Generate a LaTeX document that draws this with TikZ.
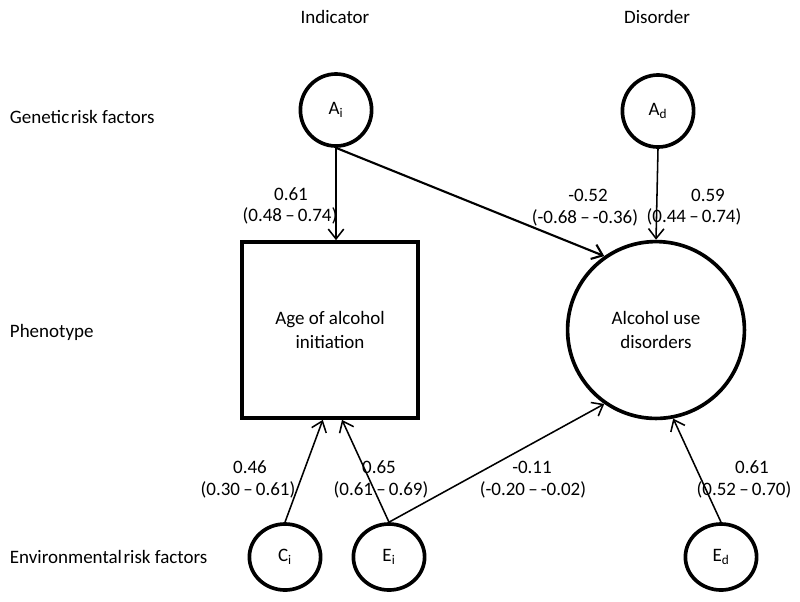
\documentclass[tikz,border=0pt]{standalone}
\usepackage{fontspec}
\setmainfont{Carlito}
\usetikzlibrary{arrows.meta,shapes.geometric}

\begin{document}
\begin{tikzpicture}[x=0.025cm,y=-0.025cm,font=\fontsize{13.5}{17.7}\selectfont,
    latente/.style={ellipse,draw,line width=2.6pt,minimum width=1.78cm,minimum height=1.8cm,inner sep=0pt},
    ruta/.style={-{Straight Barb[length=7pt,width=11pt]},line width=1.1pt}]
        \useasboundingbox (0,0) rectangle (800,601); %marco
        \node (indicador) at (335,17) {Indicator}; %columna 1
        \node (trastorno) at (657,17) {Disorder}; %columna 2
        \node[anchor=west] (genetico) at (5,117) {Genetic\hspace{0.08em}risk factors}; %fila 1
        \node[anchor=west] (fenotipo) at (5,332) {Phenotype}; %fila 2
        \node[anchor=west] (ambiental) at (5,557) {Environmental\hspace{0.08em}risk factors}; %fila 3
        \node[latente] (Ai) at (336,110) {A\textsubscript{i}};
        \node[latente] (Ad) at (658,111) {A\textsubscript{d}};
        \node[draw,line width=2.6pt,minimum size=4.4cm,align=center] (edad) at (330,330) {Age of alcohol\\initiation}; %indicador
        \node[circle,draw,line width=2.6pt,minimum size=4.42cm,align=center] (aud) at (656,330) {Alcohol use\\disorders}; %trastorno
        \node[latente,minimum height=1.65cm] (Ci) at (285,557) {C\textsubscript{i}};
        \node[latente,minimum height=1.65cm] (Ei) at (389,557) {E\textsubscript{i}};
        \node[latente,minimum height=1.65cm] (Ed) at (721,557) {E\textsubscript{d}};
        \draw[ruta] (Ai.south) -- (Ai.south |- edad.north); %Ai a edad
        \draw[ruta,line width=1.5pt] (Ai.south) -- (aud.125); %Ai a trastorno
        \draw[ruta] (Ad.south) -- (aud.north); %Ad a trastorno
        \draw[ruta] (Ci.north) -- ([xshift=-0.18cm]edad.south); %Ci a edad
        \draw[ruta] (Ei.north) -- ([xshift=0.3cm]edad.south); %Ei a edad
        \draw[ruta] (Ei.north) -- (aud.235); %Ei a trastorno
        \draw[ruta] (Ed.north) -- (aud.281); %Ed a trastorno
        \node (cAi) at (291,194) {0.61}; \node (iAi) at (290,216) {(0.48\,–\,0.74)};
        \node (cAx) at (588,195) {-0.52}; \node (iAx) at (585,218) {(-0.68\,–\,-0.36)};
        \node (cAd) at (708,195) {0.59}; \node (iAd) at (694,217) {(0.44\,–\,0.74)};
        \node (cCi) at (250,467) {0.46}; \node (iCi) at (248,490) {(0.30\,–\,0.61)};
        \node (cEi) at (379,467) {0.65}; \node (iEi) at (381,490) {(0.61\,–\,0.69)};
        \node (cEx) at (532,467) {-0.11}; \node (iEx) at (533,490) {(-0.20\,–\,-0.02)};
        \node (cEd) at (752,467) {0.61}; \node (iEd) at (744,490) {(0.52\,–\,0.70)};
    \end{tikzpicture}
\end{document}
